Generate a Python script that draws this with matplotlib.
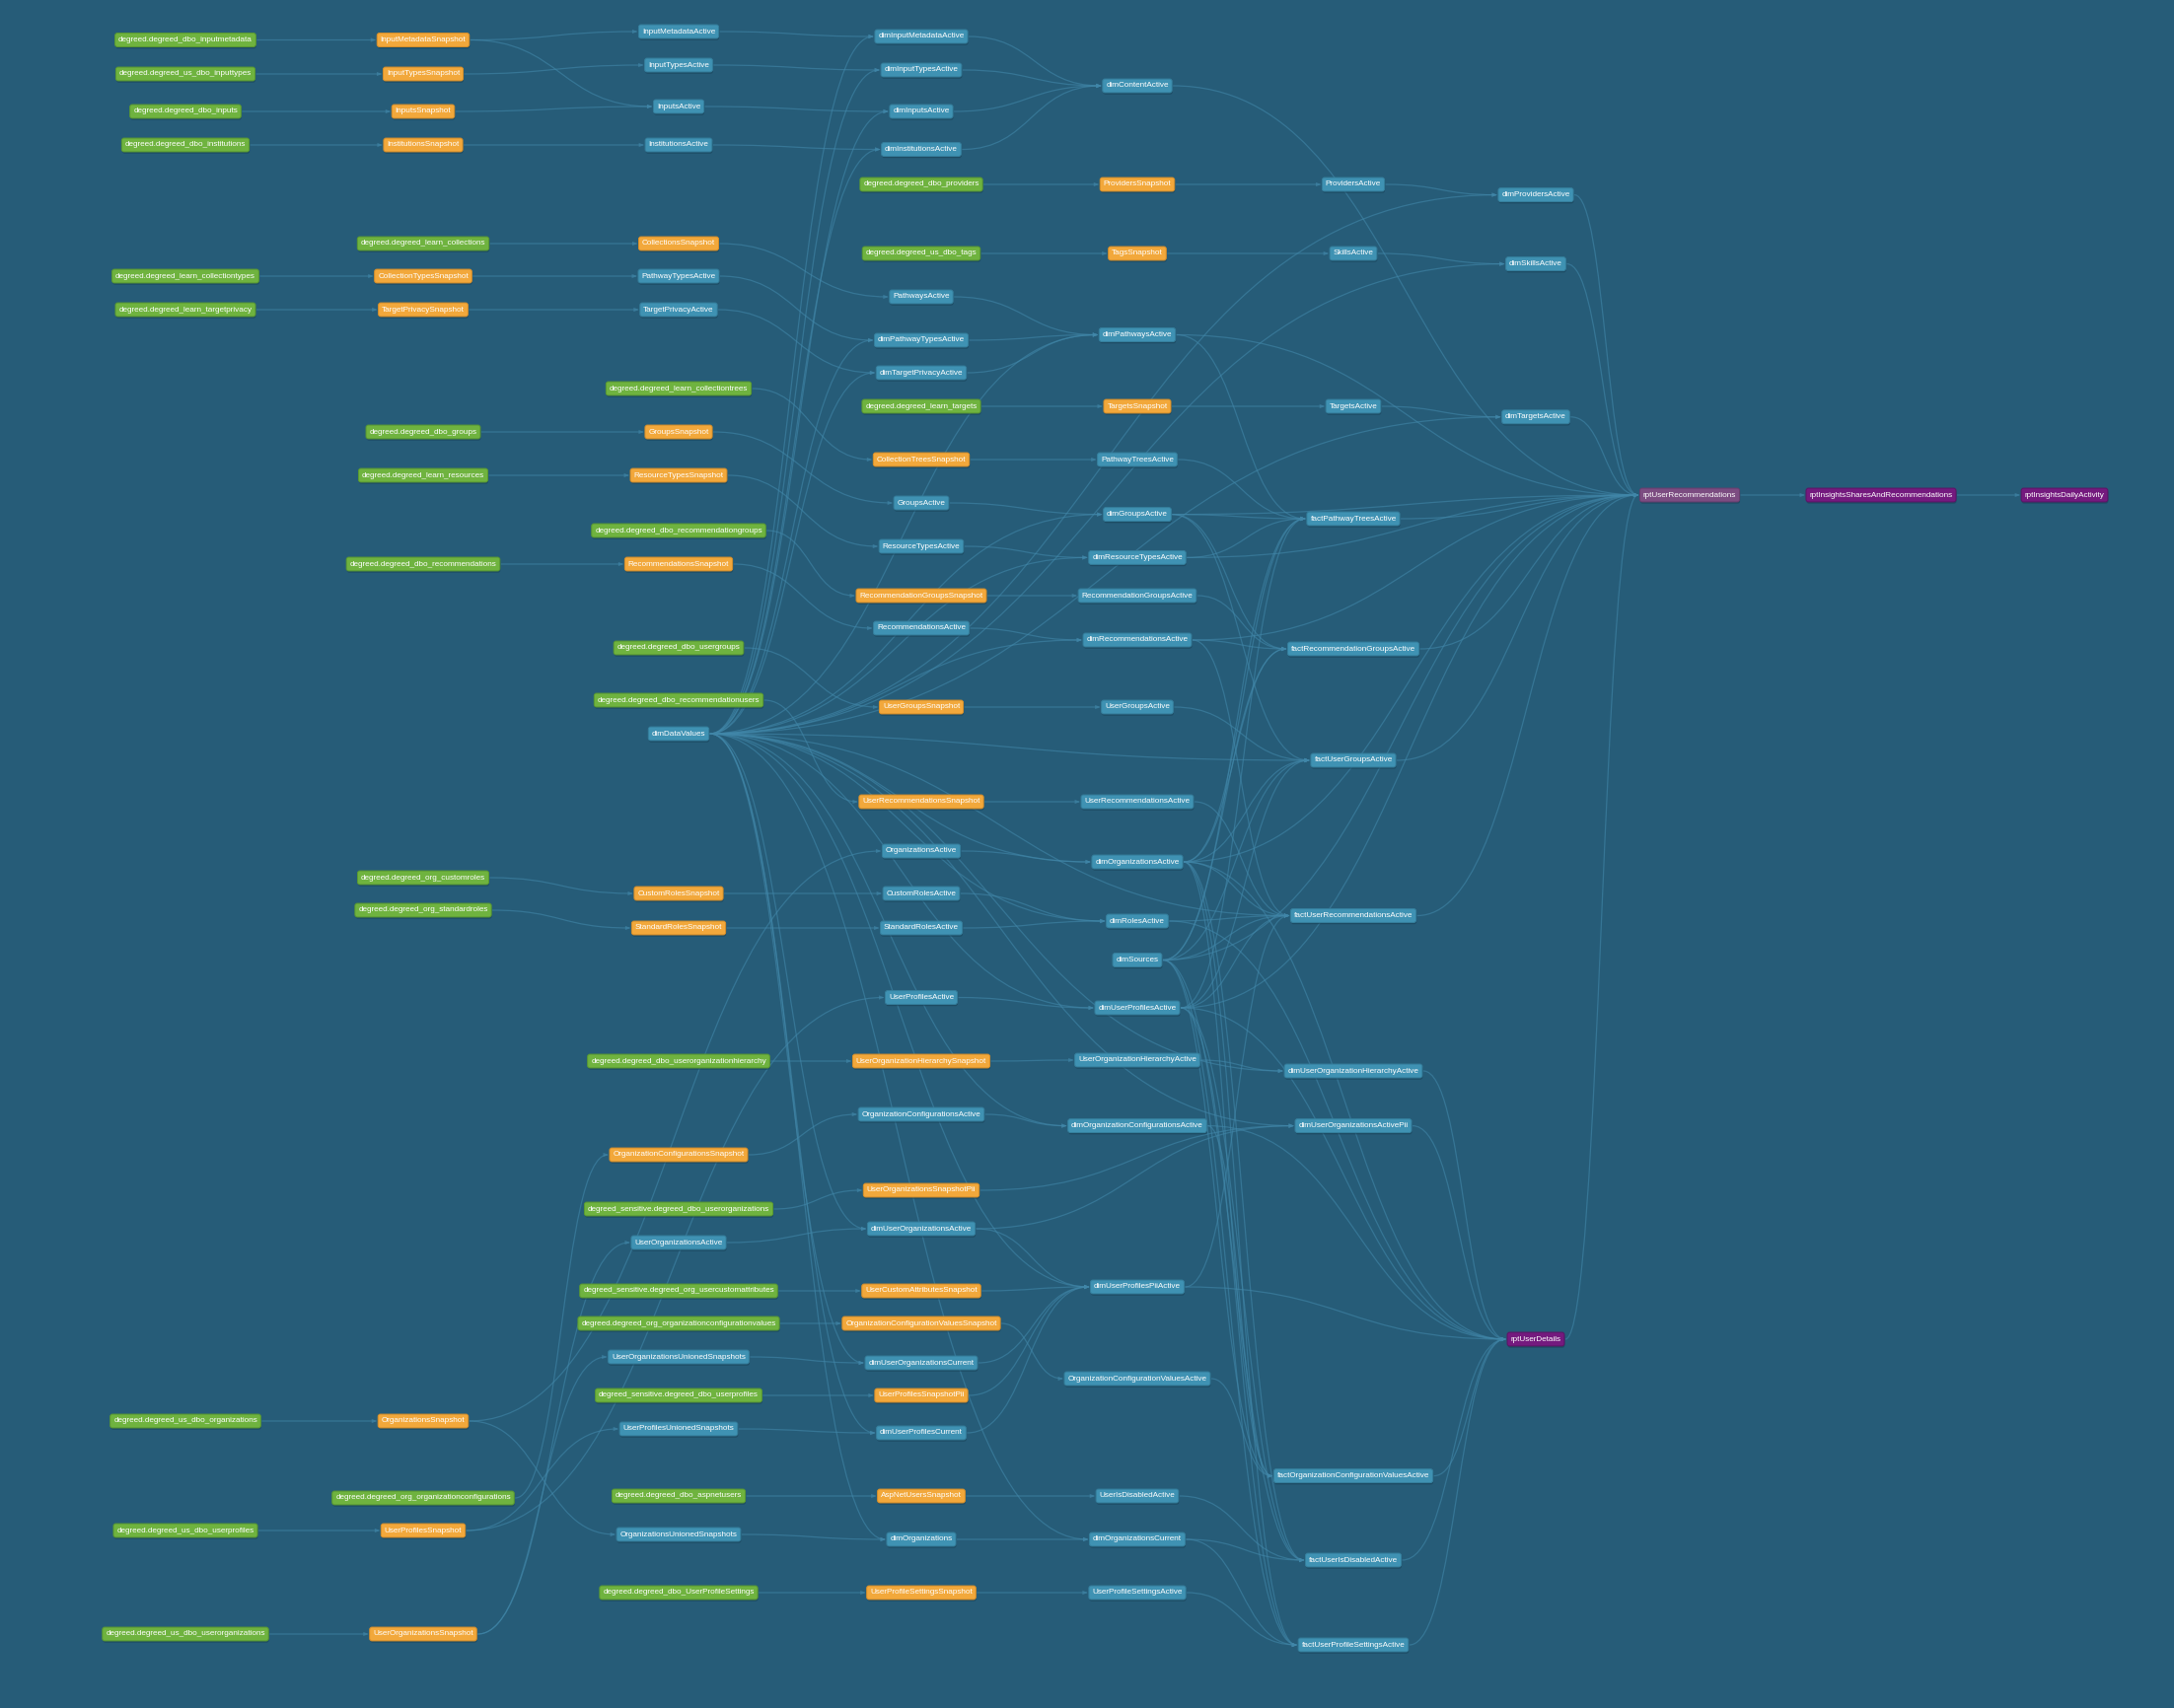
import matplotlib
matplotlib.use("Agg")
import matplotlib.pyplot as plt
from matplotlib.path import Path
from matplotlib.patches import PathPatch, Polygon, FancyBboxPatch

plt.rcParams['font.family'] = ['Liberation Sans', 'DejaVu Sans']

# layer centres (pixels)
col_x = [188, 429, 688, 934, 1153, 1372, 1557, 1713, 1907, 2093]

# (name, kind, layer, row y)
nodes = [
    ('degreed.degreed_dbo_inputmetadata', 'src', 0, 40.5),
    ('degreed.degreed_us_dbo_inputtypes', 'src', 0, 75),
    ('degreed.degreed_dbo_inputs', 'src', 0, 113),
    ('degreed.degreed_dbo_institutions', 'src', 0, 147),
    ('degreed.degreed_learn_collectiontypes', 'src', 0, 280),
    ('degreed.degreed_learn_targetprivacy', 'src', 0, 314),
    ('degreed.degreed_us_dbo_organizations', 'src', 0, 1441),
    ('degreed.degreed_us_dbo_userprofiles', 'src', 0, 1552),
    ('degreed.degreed_us_dbo_userorganizations', 'src', 0, 1657),

    ('InputMetadataSnapshot', 'snap', 1, 40.5),
    ('InputTypesSnapshot', 'snap', 1, 75),
    ('InputsSnapshot', 'snap', 1, 113),
    ('InstitutionsSnapshot', 'snap', 1, 147),
    ('degreed.degreed_learn_collections', 'src', 1, 247),
    ('CollectionTypesSnapshot', 'snap', 1, 280),
    ('TargetPrivacySnapshot', 'snap', 1, 314),
    ('degreed.degreed_dbo_groups', 'src', 1, 438),
    ('degreed.degreed_learn_resources', 'src', 1, 482),
    ('degreed.degreed_dbo_recommendations', 'src', 1, 572),
    ('degreed.degreed_org_customroles', 'src', 1, 890),
    ('degreed.degreed_org_standardroles', 'src', 1, 923),
    ('OrganizationsSnapshot', 'snap', 1, 1441),
    ('degreed.degreed_org_organizationconfigurations', 'src', 1, 1519),
    ('UserProfilesSnapshot', 'snap', 1, 1552),
    ('UserOrganizationsSnapshot', 'snap', 1, 1657),

    ('InputMetadataActive', 'model', 2, 32),
    ('InputTypesActive', 'model', 2, 66),
    ('InputsActive', 'model', 2, 108),
    ('InstitutionsActive', 'model', 2, 147),
    ('CollectionsSnapshot', 'snap', 2, 247),
    ('PathwayTypesActive', 'model', 2, 280),
    ('TargetPrivacyActive', 'model', 2, 314),
    ('degreed.degreed_learn_collectiontrees', 'src', 2, 394),
    ('GroupsSnapshot', 'snap', 2, 438),
    ('ResourceTypesSnapshot', 'snap', 2, 482),
    ('degreed.degreed_dbo_recommendationgroups', 'src', 2, 538),
    ('RecommendationsSnapshot', 'snap', 2, 572),
    ('degreed.degreed_dbo_usergroups', 'src', 2, 657),
    ('degreed.degreed_dbo_recommendationusers', 'src', 2, 710),
    ('dimDataValues', 'model', 2, 744),
    ('CustomRolesSnapshot', 'snap', 2, 906),
    ('StandardRolesSnapshot', 'snap', 2, 941),
    ('degreed.degreed_dbo_userorganizationhierarchy', 'src', 2, 1076),
    ('OrganizationConfigurationsSnapshot', 'snap', 2, 1171),
    ('degreed_sensitive.degreed_dbo_userorganizations', 'src', 2, 1226),
    ('UserOrganizationsActive', 'model', 2, 1260),
    ('degreed_sensitive.degreed_org_usercustomattributes', 'src', 2, 1309),
    ('degreed.degreed_org_organizationconfigurationvalues', 'src', 2, 1342),
    ('UserOrganizationsUnionedSnapshots', 'model', 2, 1376),
    ('degreed_sensitive.degreed_dbo_userprofiles', 'src', 2, 1415),
    ('UserProfilesUnionedSnapshots', 'model', 2, 1449),
    ('degreed.degreed_dbo_aspnetusers', 'src', 2, 1517),
    ('OrganizationsUnionedSnapshots', 'model', 2, 1556),
    ('degreed.degreed_dbo_UserProfileSettings', 'src', 2, 1615),

    ('dimInputMetadataActive', 'model', 3, 37),
    ('dimInputTypesActive', 'model', 3, 71),
    ('dimInputsActive', 'model', 3, 113),
    ('dimInstitutionsActive', 'model', 3, 151.5),
    ('degreed.degreed_dbo_providers', 'src', 3, 187),
    ('degreed.degreed_us_dbo_tags', 'src', 3, 257),
    ('PathwaysActive', 'model', 3, 301),
    ('dimPathwayTypesActive', 'model', 3, 345),
    ('dimTargetPrivacyActive', 'model', 3, 378),
    ('degreed.degreed_learn_targets', 'src', 3, 412),
    ('CollectionTreesSnapshot', 'snap', 3, 466),
    ('GroupsActive', 'model', 3, 510),
    ('ResourceTypesActive', 'model', 3, 554),
    ('RecommendationGroupsSnapshot', 'snap', 3, 604),
    ('RecommendationsActive', 'model', 3, 637),
    ('UserGroupsSnapshot', 'snap', 3, 717),
    ('UserRecommendationsSnapshot', 'snap', 3, 813),
    ('OrganizationsActive', 'model', 3, 863),
    ('CustomRolesActive', 'model', 3, 906),
    ('StandardRolesActive', 'model', 3, 941),
    ('UserProfilesActive', 'model', 3, 1011.5),
    ('UserOrganizationHierarchySnapshot', 'snap', 3, 1076),
    ('OrganizationConfigurationsActive', 'model', 3, 1130),
    ('UserOrganizationsSnapshotPii', 'snap', 3, 1207),
    ('dimUserOrganizationsActive', 'model', 3, 1246),
    ('UserCustomAttributesSnapshot', 'snap', 3, 1309),
    ('OrganizationConfigurationValuesSnapshot', 'snap', 3, 1342),
    ('dimUserOrganizationsCurrent', 'model', 3, 1382),
    ('UserProfilesSnapshotPii', 'snap', 3, 1415),
    ('dimUserProfilesCurrent', 'model', 3, 1453),
    ('AspNetUsersSnapshot', 'snap', 3, 1517),
    ('dimOrganizations', 'model', 3, 1561),
    ('UserProfileSettingsSnapshot', 'snap', 3, 1615),

    ('dimContentActive', 'model', 4, 87),
    ('ProvidersSnapshot', 'snap', 4, 187),
    ('TagsSnapshot', 'snap', 4, 257),
    ('dimPathwaysActive', 'model', 4, 339.5),
    ('TargetsSnapshot', 'snap', 4, 412),
    ('PathwayTreesActive', 'model', 4, 466),
    ('dimGroupsActive', 'model', 4, 521.6),
    ('dimResourceTypesActive', 'model', 4, 565.4),
    ('RecommendationGroupsActive', 'model', 4, 604),
    ('dimRecommendationsActive', 'model', 4, 649),
    ('UserGroupsActive', 'model', 4, 717),
    ('UserRecommendationsActive', 'model', 4, 813),
    ('dimOrganizationsActive', 'model', 4, 874),
    ('dimRolesActive', 'model', 4, 934),
    ('dimSources', 'model', 4, 973.5),
    ('dimUserProfilesActive', 'model', 4, 1022),
    ('UserOrganizationHierarchyActive', 'model', 4, 1075),
    ('dimOrganizationConfigurationsActive', 'model', 4, 1141.6),
    ('dimUserProfilesPiiActive', 'model', 4, 1305),
    ('OrganizationConfigurationValuesActive', 'model', 4, 1398),
    ('UserIsDisabledActive', 'model', 4, 1517),
    ('dimOrganizationsCurrent', 'model', 4, 1561),
    ('UserProfileSettingsActive', 'model', 4, 1615),

    ('ProvidersActive', 'model', 5, 187),
    ('SkillsActive', 'model', 5, 257),
    ('TargetsActive', 'model', 5, 412),
    ('factPathwayTreesActive', 'model', 5, 526),
    ('factRecommendationGroupsActive', 'model', 5, 658),
    ('factUserGroupsActive', 'model', 5, 771),
    ('factUserRecommendationsActive', 'model', 5, 928.5),
    ('dimUserOrganizationHierarchyActive', 'model', 5, 1086),
    ('dimUserOrganizationsActivePii', 'model', 5, 1141.6),
    ('factOrganizationConfigurationValuesActive', 'model', 5, 1496.6),
    ('factUserIsDisabledActive', 'model', 5, 1582),
    ('factUserProfileSettingsActive', 'model', 5, 1668),

    ('dimProvidersActive', 'model', 6, 197.6),
    ('dimSkillsActive', 'model', 6, 267.6),
    ('dimTargetsActive', 'model', 6, 422.8),
    ('rptUserDetails', 'rpt', 6, 1358),

    ('rptUserRecommendations', 'sel', 7, 502),
    ('rptInsightsSharesAndRecommendations', 'rpt', 8, 502),
    ('rptInsightsDailyActivity', 'rpt', 9, 502),
]

edges = [
    ('degreed.degreed_dbo_inputmetadata', 'InputMetadataSnapshot'),
    ('InputMetadataSnapshot', 'InputMetadataActive'),
    ('InputMetadataSnapshot', 'InputsActive'),
    ('InputMetadataActive', 'dimInputMetadataActive'),
    ('dimInputMetadataActive', 'dimContentActive'),
    ('degreed.degreed_us_dbo_inputtypes', 'InputTypesSnapshot'),
    ('InputTypesSnapshot', 'InputTypesActive'),
    ('InputTypesActive', 'dimInputTypesActive'),
    ('dimInputTypesActive', 'dimContentActive'),
    ('degreed.degreed_dbo_inputs', 'InputsSnapshot'),
    ('InputsSnapshot', 'InputsActive'),
    ('InputsActive', 'dimInputsActive'),
    ('dimInputsActive', 'dimContentActive'),
    ('degreed.degreed_dbo_institutions', 'InstitutionsSnapshot'),
    ('InstitutionsSnapshot', 'InstitutionsActive'),
    ('InstitutionsActive', 'dimInstitutionsActive'),
    ('dimInstitutionsActive', 'dimContentActive'),
    ('dimContentActive', 'rptUserRecommendations'),
    ('degreed.degreed_dbo_providers', 'ProvidersSnapshot'),
    ('ProvidersSnapshot', 'ProvidersActive'),
    ('ProvidersActive', 'dimProvidersActive'),
    ('dimProvidersActive', 'rptUserRecommendations'),
    ('degreed.degreed_us_dbo_tags', 'TagsSnapshot'),
    ('TagsSnapshot', 'SkillsActive'),
    ('SkillsActive', 'dimSkillsActive'),
    ('dimSkillsActive', 'rptUserRecommendations'),
    ('degreed.degreed_learn_targets', 'TargetsSnapshot'),
    ('TargetsSnapshot', 'TargetsActive'),
    ('TargetsActive', 'dimTargetsActive'),
    ('dimTargetsActive', 'rptUserRecommendations'),
    ('degreed.degreed_learn_collections', 'CollectionsSnapshot'),
    ('CollectionsSnapshot', 'PathwaysActive'),
    ('PathwaysActive', 'dimPathwaysActive'),
    ('degreed.degreed_learn_collectiontypes', 'CollectionTypesSnapshot'),
    ('CollectionTypesSnapshot', 'PathwayTypesActive'),
    ('PathwayTypesActive', 'dimPathwayTypesActive'),
    ('dimPathwayTypesActive', 'dimPathwaysActive'),
    ('degreed.degreed_learn_targetprivacy', 'TargetPrivacySnapshot'),
    ('TargetPrivacySnapshot', 'TargetPrivacyActive'),
    ('TargetPrivacyActive', 'dimTargetPrivacyActive'),
    ('dimTargetPrivacyActive', 'dimPathwaysActive'),
    ('dimPathwaysActive', 'rptUserRecommendations'),
    ('dimPathwaysActive', 'factPathwayTreesActive'),
    ('degreed.degreed_learn_collectiontrees', 'CollectionTreesSnapshot'),
    ('CollectionTreesSnapshot', 'PathwayTreesActive'),
    ('PathwayTreesActive', 'factPathwayTreesActive'),
    ('factPathwayTreesActive', 'rptUserRecommendations'),
    ('degreed.degreed_dbo_groups', 'GroupsSnapshot'),
    ('GroupsSnapshot', 'GroupsActive'),
    ('GroupsActive', 'dimGroupsActive'),
    ('dimGroupsActive', 'factPathwayTreesActive'),
    ('dimGroupsActive', 'factRecommendationGroupsActive'),
    ('dimGroupsActive', 'factUserGroupsActive'),
    ('dimGroupsActive', 'rptUserRecommendations'),
    ('degreed.degreed_learn_resources', 'ResourceTypesSnapshot'),
    ('ResourceTypesSnapshot', 'ResourceTypesActive'),
    ('ResourceTypesActive', 'dimResourceTypesActive'),
    ('dimResourceTypesActive', 'rptUserRecommendations'),
    ('dimResourceTypesActive', 'factPathwayTreesActive'),
    ('degreed.degreed_dbo_recommendationgroups', 'RecommendationGroupsSnapshot'),
    ('RecommendationGroupsSnapshot', 'RecommendationGroupsActive'),
    ('RecommendationGroupsActive', 'factRecommendationGroupsActive'),
    ('factRecommendationGroupsActive', 'rptUserRecommendations'),
    ('degreed.degreed_dbo_recommendations', 'RecommendationsSnapshot'),
    ('RecommendationsSnapshot', 'RecommendationsActive'),
    ('RecommendationsActive', 'dimRecommendationsActive'),
    ('dimRecommendationsActive', 'factRecommendationGroupsActive'),
    ('dimRecommendationsActive', 'factUserRecommendationsActive'),
    ('dimRecommendationsActive', 'rptUserRecommendations'),
    ('degreed.degreed_dbo_usergroups', 'UserGroupsSnapshot'),
    ('UserGroupsSnapshot', 'UserGroupsActive'),
    ('UserGroupsActive', 'factUserGroupsActive'),
    ('factUserGroupsActive', 'rptUserRecommendations'),
    ('degreed.degreed_dbo_recommendationusers', 'UserRecommendationsSnapshot'),
    ('UserRecommendationsSnapshot', 'UserRecommendationsActive'),
    ('UserRecommendationsActive', 'factUserRecommendationsActive'),
    ('factUserRecommendationsActive', 'rptUserRecommendations'),
    ('degreed.degreed_org_customroles', 'CustomRolesSnapshot'),
    ('CustomRolesSnapshot', 'CustomRolesActive'),
    ('CustomRolesActive', 'dimRolesActive'),
    ('degreed.degreed_org_standardroles', 'StandardRolesSnapshot'),
    ('StandardRolesSnapshot', 'StandardRolesActive'),
    ('StandardRolesActive', 'dimRolesActive'),
    ('dimRolesActive', 'factUserRecommendationsActive'),
    ('dimRolesActive', 'rptUserDetails'),
    ('degreed.degreed_us_dbo_organizations', 'OrganizationsSnapshot'),
    ('OrganizationsSnapshot', 'OrganizationsActive'),
    ('OrganizationsSnapshot', 'OrganizationsUnionedSnapshots'),
    ('OrganizationsActive', 'dimOrganizationsActive'),
    ('OrganizationsUnionedSnapshots', 'dimOrganizations'),
    ('dimOrganizations', 'dimOrganizationsCurrent'),
    ('degreed.degreed_us_dbo_userprofiles', 'UserProfilesSnapshot'),
    ('UserProfilesSnapshot', 'UserProfilesActive'),
    ('UserProfilesSnapshot', 'UserProfilesUnionedSnapshots'),
    ('UserProfilesActive', 'dimUserProfilesActive'),
    ('UserProfilesUnionedSnapshots', 'dimUserProfilesCurrent'),
    ('degreed.degreed_us_dbo_userorganizations', 'UserOrganizationsSnapshot'),
    ('UserOrganizationsSnapshot', 'UserOrganizationsActive'),
    ('UserOrganizationsSnapshot', 'UserOrganizationsUnionedSnapshots'),
    ('UserOrganizationsActive', 'dimUserOrganizationsActive'),
    ('UserOrganizationsUnionedSnapshots', 'dimUserOrganizationsCurrent'),
    ('degreed.degreed_org_organizationconfigurations', 'OrganizationConfigurationsSnapshot'),
    ('OrganizationConfigurationsSnapshot', 'OrganizationConfigurationsActive'),
    ('OrganizationConfigurationsActive', 'dimOrganizationConfigurationsActive'),
    ('degreed.degreed_dbo_userorganizationhierarchy', 'UserOrganizationHierarchySnapshot'),
    ('UserOrganizationHierarchySnapshot', 'UserOrganizationHierarchyActive'),
    ('UserOrganizationHierarchyActive', 'dimUserOrganizationHierarchyActive'),
    ('dimUserOrganizationHierarchyActive', 'rptUserDetails'),
    ('degreed_sensitive.degreed_dbo_userorganizations', 'UserOrganizationsSnapshotPii'),
    ('UserOrganizationsSnapshotPii', 'dimUserOrganizationsActivePii'),
    ('dimUserOrganizationsActive', 'dimUserOrganizationsActivePii'),
    ('dimUserOrganizationsActivePii', 'rptUserDetails'),
    ('degreed_sensitive.degreed_org_usercustomattributes', 'UserCustomAttributesSnapshot'),
    ('UserCustomAttributesSnapshot', 'dimUserProfilesPiiActive'),
    ('degreed.degreed_org_organizationconfigurationvalues', 'OrganizationConfigurationValuesSnapshot'),
    ('OrganizationConfigurationValuesSnapshot', 'OrganizationConfigurationValuesActive'),
    ('OrganizationConfigurationValuesActive', 'factOrganizationConfigurationValuesActive'),
    ('factOrganizationConfigurationValuesActive', 'rptUserDetails'),
    ('degreed_sensitive.degreed_dbo_userprofiles', 'UserProfilesSnapshotPii'),
    ('UserProfilesSnapshotPii', 'dimUserProfilesPiiActive'),
    ('dimUserProfilesCurrent', 'dimUserProfilesPiiActive'),
    ('dimUserOrganizationsCurrent', 'dimUserProfilesPiiActive'),
    ('dimUserOrganizationsActive', 'dimUserProfilesPiiActive'),
    ('dimUserProfilesPiiActive', 'rptUserDetails'),
    ('dimUserProfilesPiiActive', 'factUserRecommendationsActive'),
    ('degreed.degreed_dbo_aspnetusers', 'AspNetUsersSnapshot'),
    ('AspNetUsersSnapshot', 'UserIsDisabledActive'),
    ('UserIsDisabledActive', 'factUserIsDisabledActive'),
    ('factUserIsDisabledActive', 'rptUserDetails'),
    ('degreed.degreed_dbo_UserProfileSettings', 'UserProfileSettingsSnapshot'),
    ('UserProfileSettingsSnapshot', 'UserProfileSettingsActive'),
    ('UserProfileSettingsActive', 'factUserProfileSettingsActive'),
    ('factUserProfileSettingsActive', 'rptUserDetails'),
    ('dimOrganizationsCurrent', 'factUserIsDisabledActive'),
    ('dimOrganizationsCurrent', 'factUserProfileSettingsActive'),
    ('dimOrganizationConfigurationsActive', 'factOrganizationConfigurationValuesActive'),
    ('dimOrganizationConfigurationsActive', 'rptUserDetails'),
    ('rptUserDetails', 'rptUserRecommendations'),
    ('rptUserRecommendations', 'rptInsightsSharesAndRecommendations'),
    ('rptInsightsSharesAndRecommendations', 'rptInsightsDailyActivity'),
]

# shared dimensions feeding many facts
org_targets = ['factPathwayTreesActive', 'factRecommendationGroupsActive', 'factUserGroupsActive',
               'factUserRecommendationsActive', 'factOrganizationConfigurationValuesActive',
               'factUserIsDisabledActive', 'factUserProfileSettingsActive',
               'rptUserDetails', 'rptUserRecommendations']
source_targets = ['factPathwayTreesActive', 'factRecommendationGroupsActive', 'factUserGroupsActive',
                  'factUserRecommendationsActive', 'factOrganizationConfigurationValuesActive',
                  'factUserIsDisabledActive', 'factUserProfileSettingsActive', 'rptUserRecommendations']
profile_targets = ['factPathwayTreesActive', 'factUserGroupsActive', 'factUserRecommendationsActive',
                   'factUserIsDisabledActive', 'factUserProfileSettingsActive',
                   'rptUserDetails', 'rptUserRecommendations']
datavalue_targets = ['dimInputMetadataActive', 'dimInputTypesActive', 'dimInputsActive',
                     'dimInstitutionsActive', 'dimPathwayTypesActive', 'dimTargetPrivacyActive',
                     'dimPathwaysActive', 'dimGroupsActive', 'dimResourceTypesActive',
                     'dimRecommendationsActive', 'dimOrganizationsActive', 'dimRolesActive',
                     'dimUserProfilesActive', 'dimOrganizationConfigurationsActive',
                     'dimUserOrganizationsActive', 'dimUserOrganizationsCurrent',
                     'dimUserProfilesCurrent', 'dimOrganizations', 'dimProvidersActive',
                     'dimSkillsActive', 'dimTargetsActive', 'factUserGroupsActive',
                     'factUserRecommendationsActive', 'dimUserOrganizationHierarchyActive',
                     'dimUserOrganizationsActivePii', 'dimUserProfilesPiiActive',
                     'dimOrganizationsCurrent']

edges += [('dimOrganizationsActive', t) for t in org_targets]
edges += [('dimSources', t) for t in source_targets]
edges += [('dimUserProfilesActive', t) for t in profile_targets]
edges += [('dimDataValues', t) for t in datavalue_targets]

bg = '#265c78'
fill = {'src': '#6fb33f', 'snap': '#f2a83b', 'model': '#3f92b3',
        'rpt': '#741a7e', 'sel': '#7c4c81'}
border = {'src': '#5a9a30', 'snap': '#d98f28', 'model': '#357f9d',
          'rpt': '#5e1266', 'sel': '#6a3d6f'}
edge_col = '#4187a9'

fig = plt.figure(figsize=(22.04, 17.32), dpi=100)
fig.patch.set_facecolor(bg)
ax = fig.add_axes([0, 0, 1, 1])
ax.set_facecolor(bg)
ax.set_xlim(0, 2204)
ax.set_ylim(1732, 0)
ax.axis('off')

labels = {}
for name, kind, col, y in nodes:
    labels[name] = ax.text(col_x[col], y, name, ha='center', va='center',
                           fontsize=5.9, color='white', zorder=4,
                           bbox=dict(boxstyle='round,pad=0.42,rounding_size=0.3',
                                     fc=fill[kind], ec=border[kind], lw=0.7))

fig.canvas.draw()
renderer = fig.canvas.get_renderer()
inv = ax.transData.inverted()
box = {}
for name, t in labels.items():
    ext = t.get_bbox_patch().get_window_extent(renderer)
    (x0, y0), (x1, y1) = inv.transform([[ext.x0, ext.y0], [ext.x1, ext.y1]])
    box[name] = (min(x0, x1), max(x0, x1), min(y0, y1), max(y0, y1))

# soft drop shadow under every node
for name, (x0, x1, y0, y1) in box.items():
    ax.add_patch(FancyBboxPatch((x0 + 0.5, y0 + 1.8), x1 - x0, y1 - y0,
                                boxstyle='round,pad=0,rounding_size=2.5',
                                fc='#173f55', ec='none', alpha=0.55, zorder=3))

for a, b in edges:
    xa = box[a][1] + 1
    ya = (box[a][2] + box[a][3]) / 2
    xb = box[b][0] - 2
    yb = (box[b][2] + box[b][3]) / 2
    c = (xb - xa) * 0.5
    verts = [(xa, ya), (xa + c, ya), (xb - c, yb), (xb, yb)]
    path = Path(verts, [Path.MOVETO, Path.CURVE4, Path.CURVE4, Path.CURVE4])
    ax.add_patch(PathPatch(path, fc='none', ec=edge_col, lw=0.9, alpha=0.6, zorder=1))
    ax.add_patch(Polygon([(xb + 1, yb), (xb - 4.5, yb - 2.2), (xb - 4.5, yb + 2.2)],
                         closed=True, fc=edge_col, ec='none', alpha=0.6, zorder=2))

fig.savefig('out.png', dpi=100, facecolor=bg)
